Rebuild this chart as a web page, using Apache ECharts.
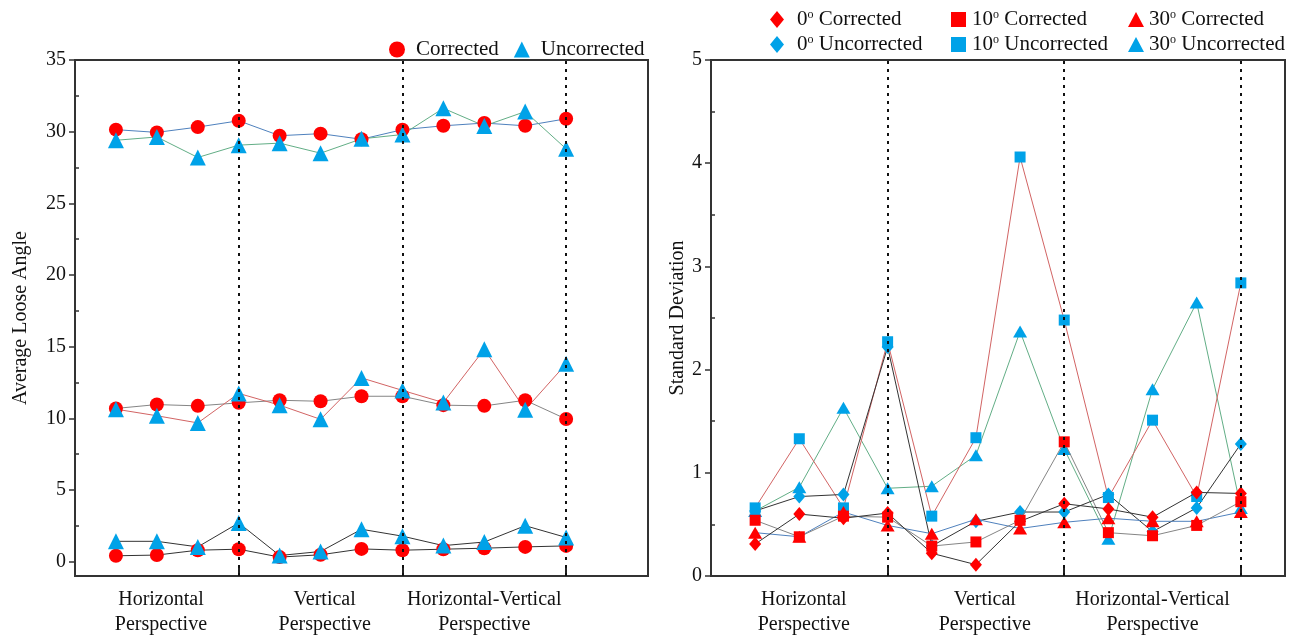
<!DOCTYPE html>
<html><head><meta charset="utf-8">
<script src="https://cdn.jsdelivr.net/npm/echarts@6/dist/echarts.min.js"></script>
<style>html,body{margin:0;padding:0;background:#fff}#c{width:1296px;height:637px}</style>
</head><body><div id="c"></div>
<script>
// ---------- shared x positions / tick data ----------
const xPositions = [1, 2, 3, 4, 5, 6, 7, 8, 9, 10, 11, 12];
const catLabels = ['Horizontal\nPerspective', 'Vertical\nPerspective', 'Horizontal-Vertical\nPerspective'];
const leftCatPos = [2.1, 6.1, 10];
const rightCatPos = [2.1, 6.2, 10];
const dividerPos = [4, 8, 12];
const leftYTicks = [0, 5, 10, 15, 20, 25, 30, 35];
const leftYMinor = [2.5, 7.5, 12.5, 17.5, 22.5, 27.5, 32.5];
const rightYTicks = [0, 1, 2, 3, 4, 5];
const rightYMinor = [0.5, 1.5, 2.5, 3.5, 4.5];

// ---------- left chart: Average Loose Angle ----------
const avg0Corrected    = [0.41, 0.46, 0.80, 0.87, 0.32, 0.48, 0.89, 0.80, 0.87, 0.94, 1.03, 1.10];
const avg0Uncorrected  = [1.42, 1.42, 1.03, 2.70, 0.43, 0.71, 2.26, 1.78, 1.12, 1.37, 2.51, 1.69];
const avg10Corrected   = [10.69, 10.96, 10.87, 11.08, 11.26, 11.19, 11.54, 11.54, 10.92, 10.87, 11.26, 9.95];
const avg10Uncorrected = [10.64, 10.18, 9.68, 11.74, 10.92, 9.93, 12.82, 11.95, 11.10, 14.82, 10.60, 13.80];
const avg30Corrected   = [30.14, 29.95, 30.32, 30.76, 29.72, 29.86, 29.47, 30.14, 30.41, 30.60, 30.41, 30.90];
const avg30Uncorrected = [29.40, 29.63, 28.20, 29.06, 29.20, 28.50, 29.50, 29.80, 31.63, 30.40, 31.40, 28.80];

// ---------- right chart: Standard Deviation ----------
const sd0Corrected    = [0.31, 0.60, 0.56, 0.61, 0.22, 0.11, 0.53, 0.70, 0.65, 0.57, 0.81, 0.80];
const sd0Uncorrected  = [0.63, 0.77, 0.79, 2.22, 0.29, 0.53, 0.62, 0.62, 0.79, 0.43, 0.66, 1.28];
const sd10Corrected   = [0.54, 0.38, 0.58, 0.57, 0.29, 0.33, 0.54, 1.30, 0.42, 0.39, 0.49, 0.72];
const sd10Uncorrected = [0.66, 1.33, 0.66, 2.27, 0.58, 1.34, 4.06, 2.48, 0.76, 1.51, 0.77, 2.84];
const sd30Corrected   = [0.42, 0.38, 0.62, 0.49, 0.41, 0.55, 0.46, 0.52, 0.56, 0.53, 0.53, 0.62];
const sd30Uncorrected = [0.63, 0.86, 1.63, 0.85, 0.87, 1.17, 2.37, 1.23, 0.36, 1.81, 2.65, 0.66];

const RED = '#FF0000', BLUE = '#00A2E8';
const L_BLACK = '#333333', L_GRAY = '#858585', L_RED = '#D26464', L_BLUE = '#4F81BD', L_GREEN = '#62AE86';
const FONT = 'Liberation Serif';

function pts(arr) { return xPositions.map((x, i) => [x, arr[i]]); }
function mk(name, arr, xi, yi, symbol, size, color, lineColor, z) {
  return {
    type: 'line', name, xAxisIndex: xi, yAxisIndex: yi, data: pts(arr),
    symbol, symbolSize: size, showAllSymbol: true,
    itemStyle: { color, opacity: 1 }, lineStyle: { color: lineColor, width: 1 },
    emphasis: { disabled: true }, z: z || 2
  };
}
function divider() {
  return {
    silent: true, symbol: ['none', 'none'], label: { show: false },
    lineStyle: { type: [3, 5], color: '#111', width: 2 },
    data: dividerPos.map(v => ({ xAxis: v }))
  };
}

const xCommon = (max, labPos) => ({
  type: 'value', min: 0, max,
  axisLine: { show: true, onZero: false, lineStyle: { color: '#333', width: 2 } },
  splitLine: { show: false },
  axisTick: { show: true, inside: true, length: 8, customValues: dividerPos, lineStyle: { color: '#222', width: 2 } },
  axisLabel: {
    customValues: labPos, margin: 11, lineHeight: 25,
    formatter: (v) => { const i = labPos.indexOf(v); return i >= 0 ? catLabels[i] : ''; },
    fontFamily: FONT, fontSize: 20, color: '#111'
  }
});
const yMain = (gi, min, max, ticks, name, gap) => ({
  type: 'value', gridIndex: gi, min, max, position: 'left',
  name, nameLocation: 'middle', nameGap: gap,
  nameTextStyle: { fontFamily: FONT, fontSize: 20, color: '#111' },
  axisLine: { show: true, onZero: false, lineStyle: { color: '#333', width: 2 } },
  splitLine: { show: false },
  axisTick: { show: true, inside: false, length: 6, customValues: ticks, lineStyle: { color: '#333', width: 1.5 } },
  axisLabel: { customValues: ticks, margin: 9, fontFamily: FONT, fontSize: 20, color: '#111' }
});
const yMinor = (gi, min, max, ticks) => ({
  type: 'value', gridIndex: gi, min, max, position: 'left',
  axisLine: { show: false, onZero: false }, splitLine: { show: false },
  axisTick: { show: true, inside: true, length: 4, customValues: ticks, lineStyle: { color: '#333', width: 1.5 } },
  axisLabel: { show: false }
});

const supFormatter = (name) => {
  const parts = name.split('°');
  return '{n|' + parts[0] + '}{s|o}{n|' + parts[1] + '}';
};
const rightLegend = (left, names, icon, pad, w, h) => ({
  left, top: 4, orient: 'vertical', itemWidth: w, itemHeight: h, itemGap: 4,
  symbolKeepAspect: false,
  data: names.map(n => ({ name: n, icon })),
  formatter: supFormatter,
  textStyle: {
    padding: [0, 0, 0, pad],
    rich: {
      n: { fontFamily: FONT, fontSize: 21, color: '#111', lineHeight: 21 },
      s: { fontFamily: FONT, fontSize: 12, color: '#111', verticalAlign: 'top', lineHeight: 21 }
    }
  }
});

const s0 = mk('Corrected', avg30Corrected, 0, 0, 'circle', 14, RED, L_BLUE);
s0.markLine = divider();
const r0 = mk('0° Corrected', sd0Corrected, 1, 2, 'diamond', [12, 14], RED, L_BLACK, 3);
r0.markLine = divider();

const option = {
  animation: false,
  backgroundColor: '#fff',
  grid: [
    { left: 75, top: 60, width: 573, height: 522, show: true, borderColor: '#333', borderWidth: 2 },
    { left: 711, top: 60, width: 574, height: 521, show: true, borderColor: '#333', borderWidth: 2 }
  ],
  xAxis: [
    Object.assign({ gridIndex: 0 }, xCommon(14, leftCatPos)),
    Object.assign({ gridIndex: 1 }, xCommon(13, rightCatPos))
  ],
  yAxis: [
    yMain(0, -1, 35, leftYTicks, 'Average Loose Angle', 44),
    yMinor(0, -1, 35, leftYMinor),
    yMain(1, 0, 5, rightYTicks, 'Standard Deviation', 23),
    yMinor(1, 0, 5, rightYMinor)
  ],
  legend: [
    {
      left: 384, top: 34, itemWidth: 16, itemHeight: 16, itemGap: 15,
      data: [{ name: 'Corrected', icon: 'circle' }, { name: 'Uncorrected', icon: 'triangle' }],
      textStyle: { fontFamily: FONT, fontSize: 21, color: '#111', padding: [0, 0, 0, 6] }
    },
    rightLegend(765, ['0° Corrected', '0° Uncorrected'], 'diamond', 8, 14, 17),
    rightLegend(946, ['10° Corrected', '10° Uncorrected'], 'rect', 1, 15, 15),
    rightLegend(1123, ['30° Corrected', '30° Uncorrected'], 'triangle', 0, 16, 15)
  ],
  series: [
    s0,
    mk('Uncorrected', avg30Uncorrected, 0, 0, 'triangle', 16, BLUE, L_GREEN),
    mk('Corrected', avg10Corrected, 0, 0, 'circle', 14, RED, L_GRAY),
    mk('Uncorrected', avg10Uncorrected, 0, 0, 'triangle', 16, BLUE, L_RED),
    mk('Corrected', avg0Corrected, 0, 0, 'circle', 14, RED, L_BLACK),
    mk('Uncorrected', avg0Uncorrected, 0, 0, 'triangle', 16, BLUE, L_BLACK),

    mk('30° Uncorrected', sd30Uncorrected, 1, 2, 'triangle', [14, 12], BLUE, L_GREEN, 2),
    mk('10° Uncorrected', sd10Uncorrected, 1, 2, 'rect', 11, BLUE, L_RED, 2),
    mk('0° Uncorrected', sd0Uncorrected, 1, 2, 'diamond', [12, 14], BLUE, L_BLACK, 2),
    mk('30° Corrected', sd30Corrected, 1, 2, 'triangle', [14, 12], RED, L_BLUE, 3),
    mk('10° Corrected', sd10Corrected, 1, 2, 'rect', 11, RED, L_GRAY, 3),
    r0
  ]
};
const chart = echarts.init(document.getElementById('c'));
chart.setOption(option);
</script></body></html>
